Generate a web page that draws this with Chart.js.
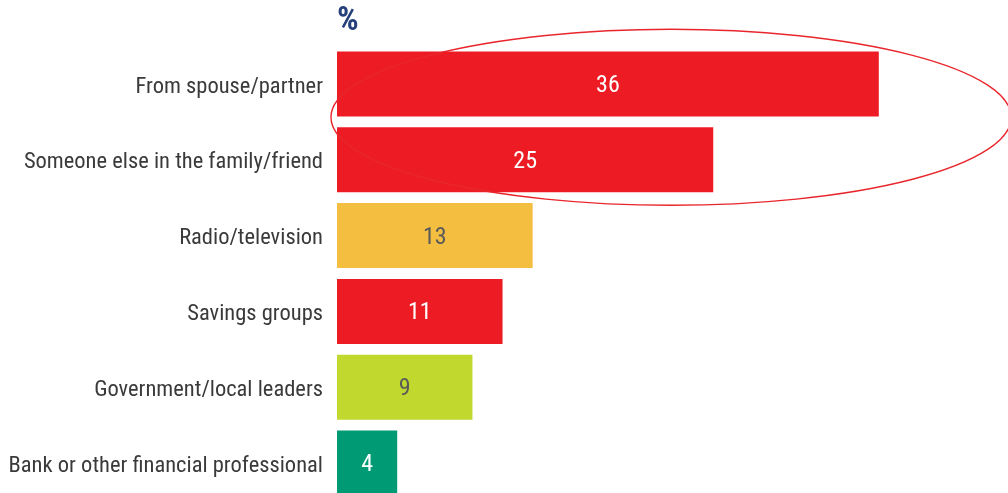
<!DOCTYPE html>
<html>
<head>
<meta charset="utf-8">
<script src="https://cdn.jsdelivr.net/npm/chart.js@4.4.1/dist/chart.umd.min.js"></script>
<style>
  html, body { margin: 0; padding: 0; background: #fff; overflow: hidden; }
  #wrap { width: 1008px; height: 493px; overflow: hidden; position: relative; }
  canvas { display: block; }
</style>
</head>
<body>
<div id="wrap"><canvas id="chart" width="1008" height="501"></canvas></div>
<script>
// Where people get financial information (%)
const categories = [
  "From spouse/partner",
  "Someone else in the family/friend",
  "Radio/television",
  "Savings groups",
  "Government/local leaders",
  "Bank or other financial professional"
];
const shares = [36, 25, 13, 11, 9, 4];
const barColors = ["#ED1C24", "#ED1C24", "#F4BE41", "#ED1C24", "#C1D82F", "#009A74"];
const valueColors = ["#FFFFFF", "#FFFFFF", "#5A5A5A", "#FFFFFF", "#5A5A5A", "#FFFFFF"];
const unitLabel = "%";

const FONT = '"Liberation Sans Narrow", "Roboto Condensed", "Liberation Sans", Arial, sans-serif';

// value printed in the middle of each bar
const barValues = {
  id: 'barValues',
  afterDatasetsDraw(chart) {
    const ctx = chart.ctx;
    const meta = chart.getDatasetMeta(0);
    ctx.save();
    ctx.font = '24px ' + FONT;
    ctx.textAlign = 'center';
    ctx.textBaseline = 'middle';
    meta.data.forEach((bar, i) => {
      const { x, y, base } = bar.getProps(['x', 'y', 'base'], true);
      ctx.fillStyle = valueColors[i];
      ctx.fillText(String(shares[i]), (x + base) / 2, y + 2);
    });
    ctx.restore();
  }
};

// unit marker above the bars and the ring around the two family sources
const extras = {
  id: 'extras',
  afterDraw(chart) {
    const ctx = chart.ctx;
    const xs = chart.scales.x, ys = chart.scales.y;
    ctx.save();
    ctx.font = 'bold 34px ' + FONT;
    ctx.fillStyle = '#26407C';
    ctx.textAlign = 'left';
    ctx.textBaseline = 'middle';
    ctx.fillText(unitLabel, chart.chartArea.left, 21);

    const cx = xs.getPixelForValue(22.2);
    const rx = xs.getPixelForValue(22.2 + 22.6) - cx;
    const cy = ys.getPixelForValue(0.44);
    const ry = ys.getPixelForValue(1.6) - cy;
    ctx.beginPath();
    ctx.ellipse(cx, cy, rx, ry, 0, 0, Math.PI * 2);
    ctx.strokeStyle = '#E8262C';
    ctx.lineWidth = 1.4;
    ctx.stroke();
    ctx.restore();
  }
};

new Chart(document.getElementById('chart'), {
  type: 'bar',
  data: {
    labels: categories,
    datasets: [{
      data: shares,
      backgroundColor: barColors,
      borderWidth: 0,
      categoryPercentage: 1,
      barPercentage: 0.857
    }]
  },
  options: {
    indexAxis: 'y',
    responsive: false,
    animation: false,
    devicePixelRatio: 1,
    layout: { padding: { top: 46, right: 69, bottom: 0, left: 0 } },
    plugins: { legend: { display: false }, tooltip: { enabled: false } },
    scales: {
      x: { display: false, min: 0, max: 40 },
      y: {
        grid: { display: false, drawTicks: false },
        border: { display: false },
        ticks: { color: '#3A3A3A', font: { family: FONT, size: 22.5 }, padding: 14, labelOffset: 3 },
        afterFit(scale) {
          scale.width = 337;
          scale.paddingTop = 0;
          scale.paddingBottom = 0;
        }
      }
    }
  },
  plugins: [barValues, extras]
});
</script>
</body>
</html>
